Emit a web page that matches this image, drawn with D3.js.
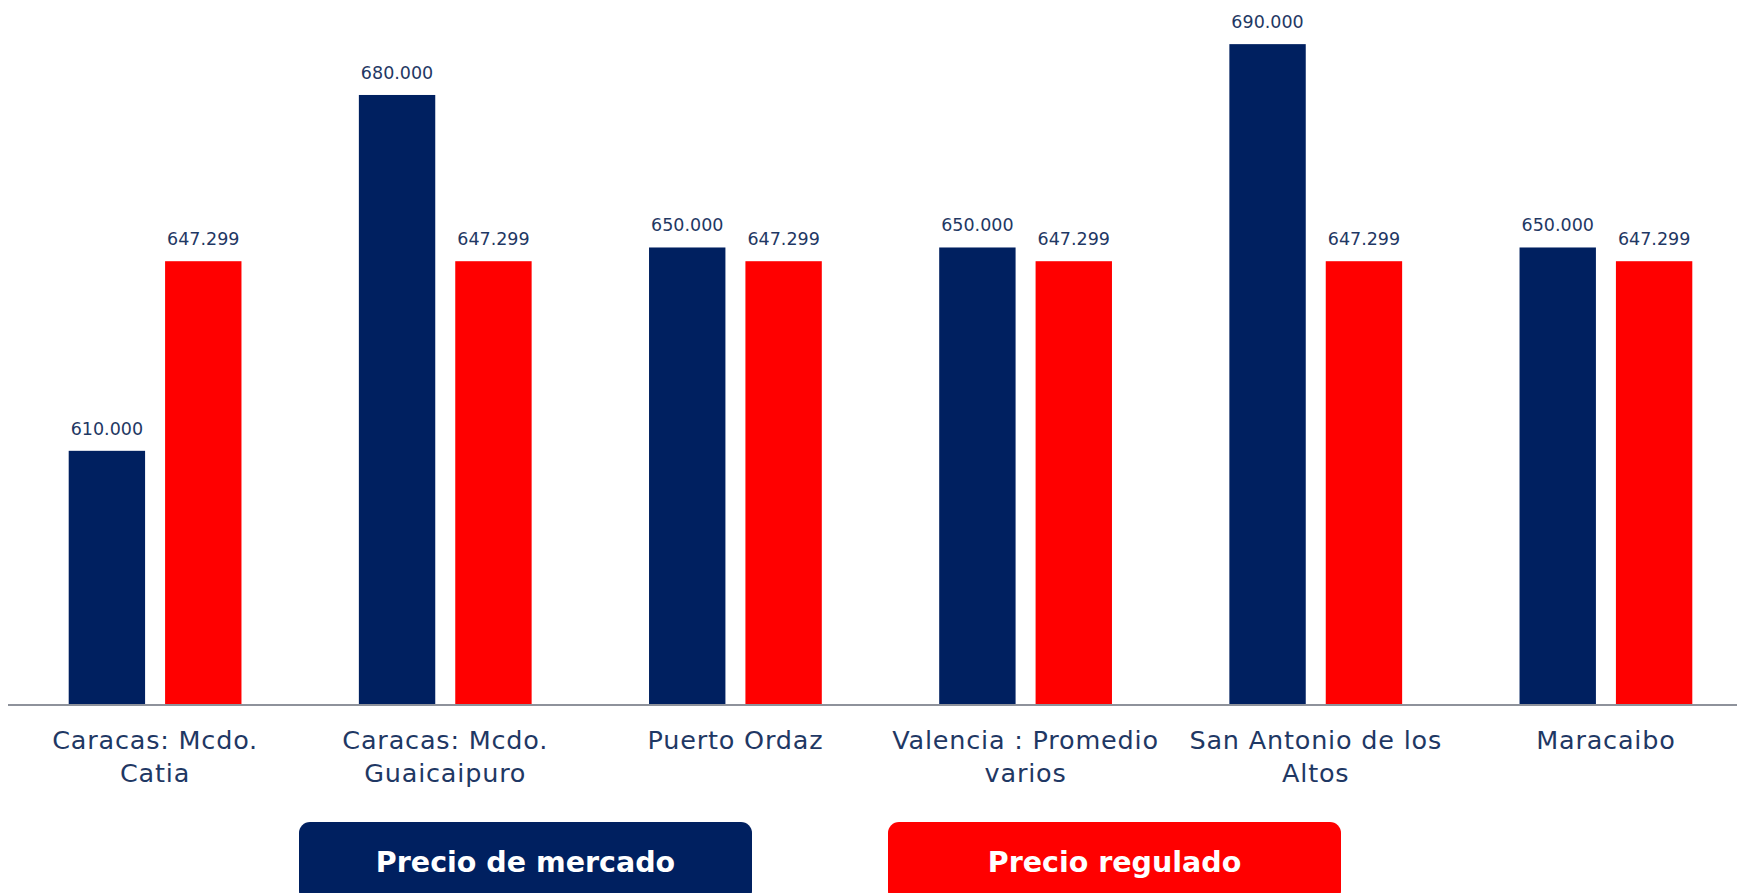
<!DOCTYPE html>
<html>
<head>
<meta charset="utf-8">
<script src="https://cdn.jsdelivr.net/npm/d3@7"></script>
<style>
  body { margin: 0; background: #fff; }
  svg { display: block; font-family: "DejaVu Sans", sans-serif; }
</style>
</head>
<body>
<div id="chart"></div>
<script>
// data
let categories = [
    "Caracas: Mcdo.\nCatia",
    "Caracas: Mcdo.\nGuaicaipuro",
    "Puerto Ordaz",
    "Valencia : Promedio\nvarios",
    "San Antonio de los\nAltos",
    "Maracaibo"
];
let series = ["Precio de mercado", "Precio regulado"];
let mercado = [610000, 680000, 650000, 650000, 690000, 650000];
let regulado = [647299, 647299, 647299, 647299, 647299, 647299];
let colors = ["#002060", "#FF0000"];

let width = 1737, height = 893;
let baseline = 705;

let svg = d3.select("#chart")
    .append("svg")
    .attr("width", width)
    .attr("height", height);

// spanish style number format: 647.299
let esLocale = d3.formatLocale({decimal: ",", thousands: ".", grouping: [3], currency: ["", ""]});
let fmt = esLocale.format(",d");

// group scale and series scale inside each group
let x0 = d3.scaleBand()
    .domain(categories)
    .range([10, 1751])
    .padding(0);

let x1 = d3.scaleBand()
    .domain(series)
    .range([0, x0.bandwidth()])
    .paddingInner(0.2075)
    .paddingOuter(0.609);

let y = d3.scaleLinear()
    .domain([560000, 700000])
    .range([baseline, -6.7]);

let color = d3.scaleOrdinal().domain(series).range(colors);

let rows = categories.map((c, i) => ({cat: c, values: [
    {key: series[0], value: mercado[i]},
    {key: series[1], value: regulado[i]}
]}));

// bars
let groups = svg.append("g")
    .selectAll("g")
    .data(rows)
    .enter().append("g")
    .attr("transform", d => `translate(${x0(d.cat)},0)`);

groups.selectAll("rect")
    .data(d => d.values)
    .enter().append("rect")
    .attr("x", d => x1(d.key))
    .attr("y", d => y(d.value))
    .attr("width", x1.bandwidth())
    .attr("height", d => baseline - y(d.value))
    .attr("fill", d => color(d.key));

// value labels
groups.selectAll("text.val")
    .data(d => d.values)
    .enter().append("text")
    .attr("class", "val")
    .attr("x", d => x1(d.key) + x1.bandwidth() / 2)
    .attr("y", d => y(d.value) - 16)
    .attr("text-anchor", "middle")
    .attr("fill", "#1F3864")
    .style("font-size", "17.5px")
    .text(d => fmt(d.value));

// x axis line
svg.append("line")
    .attr("x1", 8)
    .attr("x2", width)
    .attr("y1", baseline)
    .attr("y2", baseline)
    .attr("stroke", "#8E929B")
    .attr("stroke-width", 2.2);

// category labels (two lines)
let catLabels = svg.append("g")
    .selectAll("text")
    .data(categories)
    .enter().append("text")
    .attr("x", d => x0(d) + x0.bandwidth() / 2)
    .attr("y", 749)
    .attr("text-anchor", "middle")
    .attr("fill", "#1F3864")
    .style("font-size", "25.5px")
    .style("letter-spacing", "0.8px");

catLabels.selectAll("tspan")
    .data(d => d.split("\n"))
    .enter().append("tspan")
    .attr("x", function() { return d3.select(this.parentNode).attr("x"); })
    .attr("dy", (d, i) => i === 0 ? 0 : 33)
    .text(d => d);

// legend boxes
let legendX = [299, 888];
let legend = svg.append("g")
    .selectAll("g")
    .data(series)
    .enter().append("g")
    .attr("transform", (d, i) => `translate(${legendX[i]},822)`);

legend.append("rect")
    .attr("width", 453)
    .attr("height", 80)
    .attr("rx", 11)
    .attr("fill", d => color(d));

legend.append("text")
    .attr("x", 453 / 2)
    .attr("y", 40)
    .attr("dy", "0.35em")
    .attr("text-anchor", "middle")
    .attr("fill", "#fff")
    .style("font-size", "28.5px")
    .style("font-weight", "bold")
    .text(d => d);
</script>
</body>
</html>
